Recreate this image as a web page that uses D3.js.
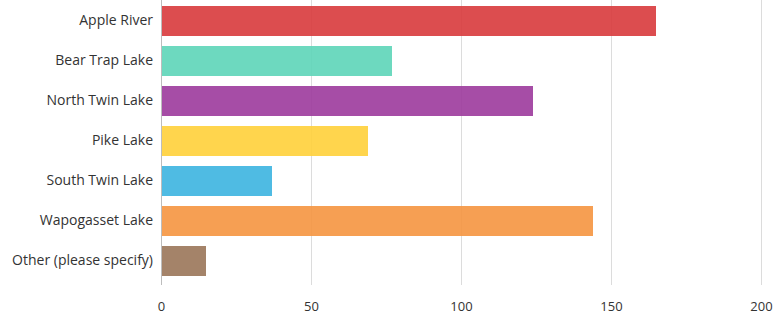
<!DOCTYPE html>
<html>
<head>
<meta charset="utf-8">
<script src="https://cdn.jsdelivr.net/npm/d3@7"></script>
<style>
  html, body { margin: 0; padding: 0; background: #fff; }
  svg text { font-family: "Open Sans", Lato, sans-serif; }
</style>
</head>
<body>
<svg id="chart" width="780" height="330"></svg>
<script>
const categories = ["Apple River", "Bear Trap Lake", "North Twin Lake", "Pike Lake",
  "South Twin Lake", "Wapogasset Lake", "Other (please specify)"];
const values = [165, 77, 124, 69, 37, 144, 15];
const colors = ["#d83a3c", "#5dd5b8", "#9c3a9c", "#ffd03a", "#3cb4e0", "#f59540", "#9a7659"];
const xTicks = [0, 50, 100, 150, 200];

const svg = d3.select("#chart");
const plot = { left: 161, right: 761, top: 1, bottom: 281 };
const labelFont = "'Open Sans', Lato, sans-serif";

const x = d3.scaleLinear().domain([0, 200]).range([plot.left, plot.right]);
const y = d3.scaleBand().domain(categories).range([plot.top, plot.bottom])
  .paddingInner(0.25).paddingOuter(0.125);

// vertical gridlines
svg.append("g").selectAll("line").data(xTicks.slice(1)).join("line")
  .attr("x1", d => x(d) + 0.5).attr("x2", d => x(d) + 0.5)
  .attr("y1", 0).attr("y2", 285)
  .attr("stroke", "#dcdcdc").attr("stroke-width", 1);

// bars
svg.append("g").selectAll("rect").data(categories).join("rect")
  .attr("x", x(0))
  .attr("y", d => y(d))
  .attr("width", (d, i) => x(values[i]) - x(0))
  .attr("height", y.bandwidth())
  .attr("fill", (d, i) => colors[i])
  .attr("fill-opacity", 0.9);

// baseline
svg.append("line")
  .attr("x1", x(0) + 0.5).attr("x2", x(0) + 0.5)
  .attr("y1", 0).attr("y2", 285)
  .attr("stroke", "#bdbdbd").attr("stroke-width", 1);

// category labels
const yAxis = d3.axisLeft(y).tickSize(0).tickPadding(8);
const gy = svg.append("g").attr("transform", `translate(${x(0)},0)`).call(yAxis);
gy.select(".domain").remove();
gy.selectAll("text").attr("font-size", 14).attr("fill", "#333")
  .style("font-family", labelFont);

// value axis labels
const xAxis = d3.axisBottom(x).tickValues(xTicks).tickSize(0).tickPadding(0).tickFormat(d3.format("d"));
const gx = svg.append("g").attr("transform", "translate(0,302)").call(xAxis);
gx.select(".domain").remove();
gx.selectAll("text").attr("font-size", 13).attr("fill", "#333")
  .style("font-family", labelFont);
</script>
</body>
</html>
